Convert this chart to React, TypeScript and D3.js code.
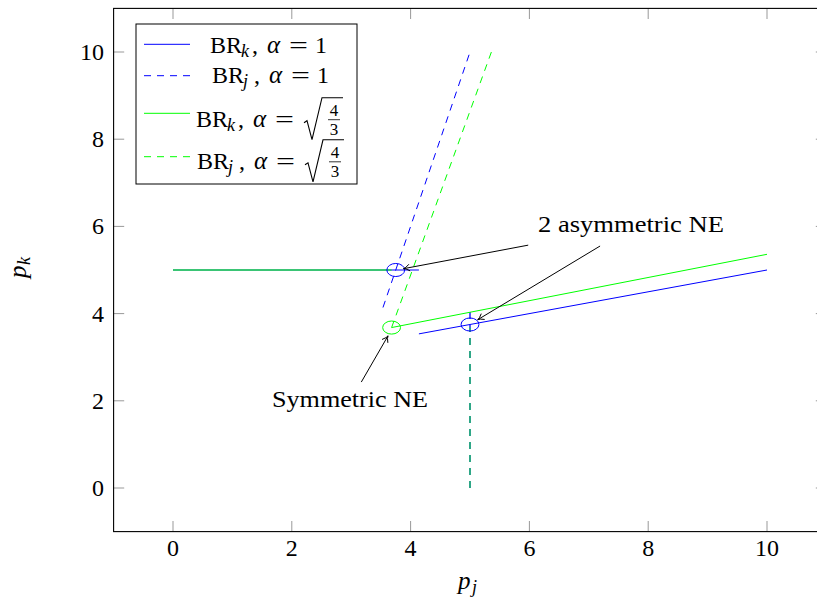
import React from "react";
import * as d3 from "d3";

const W = 817;
const H = 599;
const FONT = "'Liberation Serif', 'Times New Roman', serif";

const xDomain: [number, number] = [-1, 11];
const yDomain: [number, number] = [-1, 11];
const xTicks = [0, 2, 4, 6, 8, 10];
const yTicks = [0, 2, 4, 6, 8, 10];

// Best responses, alpha = 1 (blue)
const brKAlpha1Flat: [number, number][] = [[0, 5], [4.14, 5]];
const brKAlpha1Slope: [number, number][] = [[4.14, 3.535], [10, 5]];
const brJAlpha1Flat: [number, number][] = [[5, 0], [5, 4.14]];
const brJAlpha1Slope: [number, number][] = [[3.535, 4.14], [5, 10]];
// Best responses, alpha = sqrt(4/3) (green)
const brKAlphaRFlat: [number, number][] = [[0, 5], [3.68, 5]];
const brKAlphaRSlope: [number, number][] = [[3.68, 3.68], [10, 5.36]];
const brJAlphaRFlat: [number, number][] = [[5, 0], [5, 3.68]];
const brJAlphaRSlope: [number, number][] = [[3.68, 3.68], [5.36, 10]];

// Equilibria (circled)
const eqPj = [3.75, 5, 3.68];
const eqPk = [5, 3.75, 3.68];
const eqSeries = ["a1", "a1", "aR"];
const eqRadius = 0.15;

// Annotations
const annLabels = ["2 asymmetric NE", "Symmetric NE"];
const annLabelPos: [number, number][] = [[7.71, 6.06], [2.98, 2.03]];
const annLabelWidth = [186, 156];
const arrowFrom: [number, number][] = [[5.98, 5.57], [7.19, 5.55], [3.17, 2.43]];
const arrowTo: [number, number][] = [[3.88, 5.03], [5.13, 3.86], [3.62, 3.49]];

const BLUE = "#0000ff";
const GREEN = "#00ff00";
const DASH = "7,6";

const x = d3.scaleLinear().domain(xDomain).range([113.6, 826.4]);
const y = d3.scaleLinear().domain(yDomain).range([531.6, 8.4]);
const line = d3
  .line<[number, number]>()
  .x((d) => x(d[0]))
  .y((d) => y(d[1]));

function Arrow({ from, to }: { from: [number, number]; to: [number, number] }) {
  const x1 = x(from[0]), y1 = y(from[1]);
  const x2 = x(to[0]), y2 = y(to[1]);
  const a = Math.atan2(y2 - y1, x2 - x1);
  const L = 7, s = 0.5;
  const p1 = [x2 - L * Math.cos(a - s), y2 - L * Math.sin(a - s)];
  const p2 = [x2 - L * Math.cos(a + s), y2 - L * Math.sin(a + s)];
  return (
    <g stroke="#000" strokeWidth={1} fill="none">
      <line x1={x1} y1={y1} x2={x2} y2={y2} />
      <path d={`M${p1[0]},${p1[1]} Q${x2 - 2 * Math.cos(a)},${y2 - 2 * Math.sin(a)} ${x2},${y2} Q${x2 - 2 * Math.cos(a)},${y2 - 2 * Math.sin(a)} ${p2[0]},${p2[1]}`} />
    </g>
  );
}

function LegendLabel({ x0, b, sub, sqrt }: { x0: number; b: number; sub: string; sqrt: boolean }) {
  const r = x0 + 107;
  return (
    <g fontFamily={FONT} fill="#000">
      <text x={x0} y={b} fontSize={24}>BR</text>
      <text x={x0 + 31} y={b + 4} fontSize={18} fontStyle="italic">{sub}</text>
      <text x={x0 + 42} y={b} fontSize={24}>,</text>
      <text x={x0 + 57} y={b} fontSize={25} fontStyle="italic">α</text>
      <text transform={`translate(${x0 + 79},${b}) scale(1.4,1)`} fontSize={24}>=</text>
      {sqrt ? (
        <g>
          <path
            d={`M${r + 1},${b - 4} L${r + 4},${b - 6} L${r + 9},${b + 13} L${r + 19},${b - 29} L${r + 40},${b - 29}`}
            fill="none"
            stroke="#000"
            strokeWidth={1.1}
          />
          <text x={r + 31} y={b - 11} fontSize={17} textAnchor="middle">4</text>
          <line x1={r + 25} x2={r + 37} y1={b - 7} y2={b - 7} stroke="#000" strokeWidth={0.8} />
          <text x={r + 31} y={b + 8} fontSize={17} textAnchor="middle">3</text>
        </g>
      ) : (
        <text x={x0 + 105} y={b} fontSize={24}>1</text>
      )}
    </g>
  );
}

export default function App() {
  const legendRows = [
    { color: BLUE, dash: undefined, y: 44.3, x0: 210, b: 52.7, sub: "k", sqrt: false },
    { color: BLUE, dash: DASH, y: 75.7, x0: 212, b: 82.7, sub: "j", sqrt: false },
    { color: GREEN, dash: undefined, y: 113.3, x0: 196, b: 126.7, sub: "k", sqrt: true },
    { color: GREEN, dash: DASH, y: 156.7, x0: 197, b: 168.8, sub: "j", sqrt: true },
  ];
  return (
    <svg
      width={W}
      height={H}
      style={{ position: "absolute", left: 0, top: 0, background: "#fff" }}
      fontFamily={FONT}
    >
      <rect x={0} y={0} width={W} height={H} fill="#fff" />
      {/* ticks */}
      <g stroke="#999" strokeWidth={1}>
        {xTicks.map((t) => (
          <g key={"xt" + t}>
            <line x1={x(t)} x2={x(t)} y1={531.6} y2={521} />
            <line x1={x(t)} x2={x(t)} y1={8.4} y2={19} />
          </g>
        ))}
        {yTicks.map((t) => (
          <g key={"yt" + t}>
            <line x1={113.6} x2={124.2} y1={y(t)} y2={y(t)} />
            <line x1={826.4} x2={815.8} y1={y(t)} y2={y(t)} />
          </g>
        ))}
      </g>
      {/* tick labels */}
      <g fontSize={24} fill="#000" fontFamily={FONT}>
        {xTicks.map((t) => (
          <text key={"xl" + t} x={x(t)} y={556} textAnchor="middle">{t}</text>
        ))}
        {yTicks.map((t) => (
          <text key={"yl" + t} x={104} y={y(t) + 8} textAnchor="end">{t}</text>
        ))}
      </g>
      {/* axis labels */}
      <g fill="#000" fontFamily={FONT}>
        <text x={458} y={589} fontSize={25} fontStyle="italic">p</text>
        <text x={472} y={593} fontSize={18} fontStyle="italic">j</text>
        <g transform="translate(26,268) rotate(-90)">
          <text x={-10} y={0} fontSize={25} fontStyle="italic">p</text>
          <text x={3} y={4} fontSize={18} fontStyle="italic">k</text>
        </g>
      </g>
      {/* data */}
      <g fill="none" strokeWidth={1}>
        <path d={line(brKAlpha1Flat)!} stroke={BLUE} />
        <path d={line(brKAlpha1Slope)!} stroke={BLUE} />
        <path d={line(brJAlpha1Flat)!} stroke={BLUE} strokeDasharray={DASH} strokeWidth={1.3} />
        <path d={line(brJAlpha1Slope)!} stroke={BLUE} strokeDasharray={DASH} />
        <path d={line(brKAlphaRFlat)!} stroke={GREEN} strokeOpacity={0.72} strokeWidth={1.3} />
        <path d={line(brKAlphaRSlope)!} stroke={GREEN} />
        <path d={line(brJAlphaRFlat)!} stroke={GREEN} strokeDasharray={DASH} strokeOpacity={0.72} strokeWidth={1.3} />
        <path d={line(brJAlphaRSlope)!} stroke={GREEN} strokeDasharray={DASH} />
      </g>
      {/* equilibria */}
      <g fill="none" strokeWidth={1}>
        {eqPj.map((pj, i) => (
          <ellipse
            key={"eq" + i}
            cx={x(pj)}
            cy={y(eqPk[i])}
            rx={x(eqRadius) - x(0)}
            ry={y(0) - y(eqRadius)}
            stroke={eqSeries[i] === "a1" ? BLUE : GREEN}
          />
        ))}
      </g>
      {/* annotations */}
      {arrowFrom.map((f, i) => (
        <Arrow key={"ar" + i} from={f} to={arrowTo[i]} />
      ))}
      {annLabels.map((s, i) => (
        <text
          key={"an" + i}
          x={x(annLabelPos[i][0])}
          y={y(annLabelPos[i][1]) + 8}
          fontSize={24}
          fontFamily={FONT}
          textAnchor="middle"
          textLength={annLabelWidth[i]}
          lengthAdjust="spacingAndGlyphs"
          fill="#000"
        >
          {s}
        </text>
      ))}
      {/* axis frame */}
      <rect x={113.6} y={8.4} width={826.4 - 113.6} height={531.6 - 8.4} fill="none" stroke="#000" strokeWidth={1.1} />
      {/* legend */}
      <g>
        <rect x={136} y={24} width={221} height={160} fill="#fff" stroke="#000" strokeWidth={1} />
        {legendRows.map((r, i) => (
          <g key={"lg" + i}>
            <line x1={144} x2={190} y1={r.y} y2={r.y} stroke={r.color} strokeWidth={1} strokeDasharray={r.dash} />
            <LegendLabel x0={r.x0} b={r.b} sub={r.sub} sqrt={r.sqrt} />
          </g>
        ))}
      </g>
    </svg>
  );
}
